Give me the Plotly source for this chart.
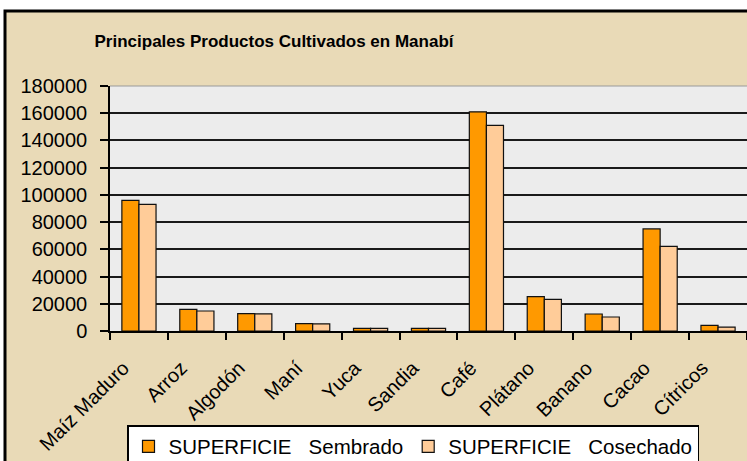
import plotly.graph_objects as go

# data
categories = ["Maíz Maduro", "Arroz", "Algodón", "Maní", "Yuca", "Sandia",
              "Café", "Plátano", "Banano", "Cacao", "Cítricos"]
sembrado = [96000, 15900, 12700, 5400, 2000, 2000, 161000, 25200, 12500, 75000, 4200]
cosechado = [93000, 14700, 12600, 5300, 1900, 1900, 151000, 23300, 10300, 62200, 2900]
y_ticks = list(range(0, 180001, 20000))

W, H = 747, 461
ML, MT, MB = 110, 86, 130
PW, PH = W - ML, H - MT - MB


def px(x):
    return (x - ML) / PW


def py(y):
    return (H - MB - y) / PH


fig = go.Figure()
fig.add_trace(go.Bar(
    x=categories, y=sembrado, name="SUPERFICIE\u00a0\u00a0\u00a0Sembrado",
    marker=dict(color="#FF9900", line=dict(color="#111111", width=1.2))
))
fig.add_trace(go.Bar(
    x=categories, y=cosechado, name="SUPERFICIE\u00a0\u00a0\u00a0Cosechado",
    marker=dict(color="#FFCC99", line=dict(color="#111111", width=1.2))
))

fig.update_layout(
    width=W, height=H,
    margin=dict(l=ML, r=0, t=MT, b=MB, pad=0, autoexpand=False),
    paper_bgcolor="white",
    plot_bgcolor="#ECECEC",
    barmode="group", bargap=0.41, bargroupgap=0,
    font=dict(family="Liberation Sans, Arial, sans-serif", size=20, color="black"),
    title=dict(
        text="<b>Principales Productos Cultivados en Manabí</b>",
        x=274 / W, xanchor="center", xref="container",
        y=1 - 41 / H, yanchor="middle", yref="container",
        font=dict(family="Liberation Sans, Arial, sans-serif", size=17, color="black"),
    ),
    xaxis=dict(
        tickangle=-45, showline=True, linecolor="black", linewidth=1.5,
        ticks="outside", tickson="boundaries", ticklen=7, tickcolor="black",
        tickwidth=1.5, showgrid=False, fixedrange=True,
        tickmode="array", tickvals=categories,
        ticktext=[c + "\u00a0" * 4 for c in categories],
    ),
    yaxis=dict(
        range=[0, 180000], tickvals=y_ticks, ticktext=[str(v) for v in y_ticks],
        showline=True, linecolor="black", linewidth=1.5,
        ticks="outside", ticklen=8, tickcolor="black", tickwidth=1.5,
        ticklabelstandoff=9,
        showgrid=True, gridcolor="#1a1a1a", gridwidth=1.5, zeroline=False,
        fixedrange=True,
    ),
    legend=dict(
        orientation="h", x=px(127), xanchor="left", y=py(425), yanchor="top",
        bgcolor="white", bordercolor="black", borderwidth=1.5,
        font=dict(size=20.5), itemwidth=30, tracegroupgap=0,
    ),
    shapes=[
        dict(type="rect", xref="paper", yref="paper", layer="below",
             x0=px(5), x1=px(770), y0=py(480), y1=py(11),
             fillcolor="#E9DAB7", line=dict(color="black", width=3)),
        dict(type="rect", xref="paper", yref="paper", layer="below",
             x0=0, x1=1, y0=0, y1=1,
             fillcolor="#ECECEC", line=dict(width=0)),
        dict(type="line", xref="paper", yref="paper", layer="below",
             x0=0, x1=1, y0=1, y1=1, line=dict(color="#9a9a9a", width=1.2)),
    ],
    showlegend=True,
)

fig.write_html(
    "out.html",
    config={"displayModeBar": False},
    post_script="document.body.style.margin='0';document.body.style.overflow='hidden';",
)
